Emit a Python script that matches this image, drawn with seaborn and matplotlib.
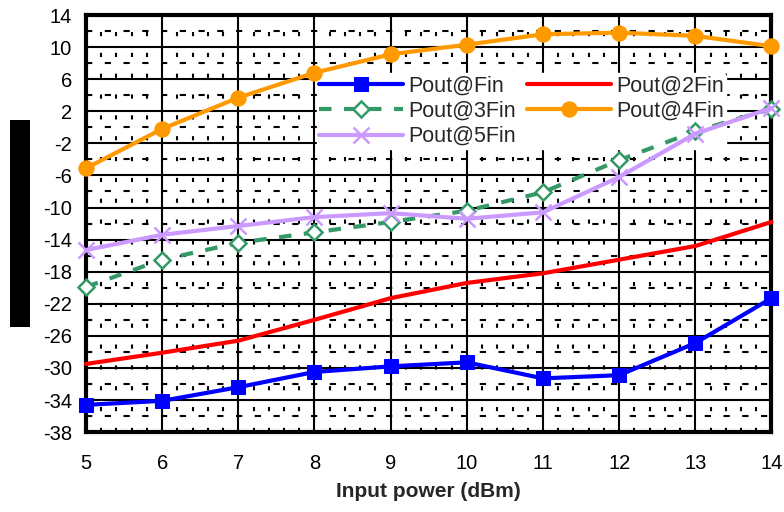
import matplotlib
matplotlib.use("Agg")
import matplotlib.pyplot as plt
import seaborn as sns
import pandas as pd
import numpy as np
from matplotlib.patches import Rectangle
from matplotlib.ticker import MultipleLocator

x_vals = [5, 6, 7, 8, 9, 10, 11, 12, 13, 14]
fin = [-34.6, -34.1, -32.4, -30.5, -29.8, -29.3, -31.3, -30.9, -26.9, -21.3]
fin2 = [-29.5, -28.1, -26.6, -24.0, -21.3, -19.4, -18.2, -16.5, -14.8, -11.8]
fin3 = [-19.9, -16.5, -14.4, -13.1, -11.8, -10.4, -8.1, -4.1, -0.5, 2.3]
fin4 = [-5.1, -0.2, 3.7, 6.8, 9.1, 10.3, 11.6, 11.8, 11.4, 10.1]
fin5 = [-15.3, -13.4, -12.3, -11.2, -10.7, -11.4, -10.6, -6.2, -0.8, 2.4]
y_ticks = list(range(-38, 15, 4))

sns.set_theme(style="white")
plt.rcParams['font.family'] = ['Liberation Sans', 'DejaVu Sans']
plt.rcParams['axes.unicode_minus'] = False

fig = plt.figure(figsize=(7.84, 5.12), dpi=100)
ax = fig.add_axes([0.1097, 0.156, 0.8743, 0.8147])

series = [
    ("Pout@Fin", fin, dict(color="#0000FF", marker="s", markersize=10, linestyle="-",
                           markeredgecolor="#0000FF")),
    ("Pout@2Fin", fin2, dict(color="#FF0000", marker=None, linestyle="-")),
    ("Pout@3Fin", fin3, dict(color="#339966", marker="D", markersize=8, linestyle=(0, (3, 3)),
                            markerfacecolor="white", markeredgecolor="#339966",
                            markeredgewidth=1.8)),
    ("Pout@4Fin", fin4, dict(color="#FF9900", marker="o", markersize=11, linestyle="-",
                            markeredgecolor="#FF9900")),
    ("Pout@5Fin", fin5, dict(color="#CC99FF", marker="x", markersize=11, linestyle="-",
                            markeredgecolor="#CC99FF", markeredgewidth=1.8)),
]

handles = {}
for name, vals, st in series:
    df = pd.DataFrame({"x": x_vals, "y": vals})
    kw = dict(st)
    ls = kw.pop("linestyle")
    sns.lineplot(data=df, x="x", y="y", ax=ax, label=name, linewidth=3,
                 linestyle=ls, **kw, zorder=5, clip_on=False)
    handles[name] = ax.get_lines()[-1]

ax.set_xlim(5, 14)
ax.set_ylim(-38, 14)
ax.set_xticks(x_vals)
ax.set_yticks(y_ticks)
ax.xaxis.set_minor_locator(MultipleLocator(0.2))
ax.yaxis.set_minor_locator(MultipleLocator(2))
ax.grid(which="major", color="black", linewidth=1.5)
ax.grid(which="minor", axis="x", color="black", linewidth=1.5, linestyle=(0, (2, 8)))
ax.grid(which="minor", axis="y", color="black", linewidth=1.5, linestyle=(0, (3, 6)))
ax.set_axisbelow(True)
for s in ax.spines.values():
    s.set_color("black")
    s.set_linewidth(3)

ax.tick_params(axis="both", which="both", length=0, labelsize=14.5, colors="black")
ax.tick_params(axis="x", pad=16)
ax.tick_params(axis="y", pad=10)
ax.set_xlabel("Input power (dBm)", fontsize=15, fontweight="bold", labelpad=6)
ax.set_ylabel("")

order = ["Pout@Fin", "Pout@3Fin", "Pout@5Fin", "Pout@2Fin", "Pout@4Fin"]
leg = ax.legend([handles[n] for n in order], order, loc="upper left",
                bbox_to_anchor=(0.337, 0.86), ncol=2, frameon=True,
                fontsize=15.5, handlelength=3.9, columnspacing=0.5, handletextpad=0.25,
                labelspacing=0.2, borderpad=0.1, borderaxespad=0)
leg.get_frame().set_facecolor("white")
leg.get_frame().set_edgecolor("white")
leg.get_frame().set_alpha(1)
leg.set_zorder(4)

fig.patches.append(Rectangle((10 / 784, 1 - 327 / 512), 20 / 784, 207 / 512,
                             transform=fig.transFigure, facecolor="black", edgecolor="none"))

fig.savefig("out.png", dpi=100)
